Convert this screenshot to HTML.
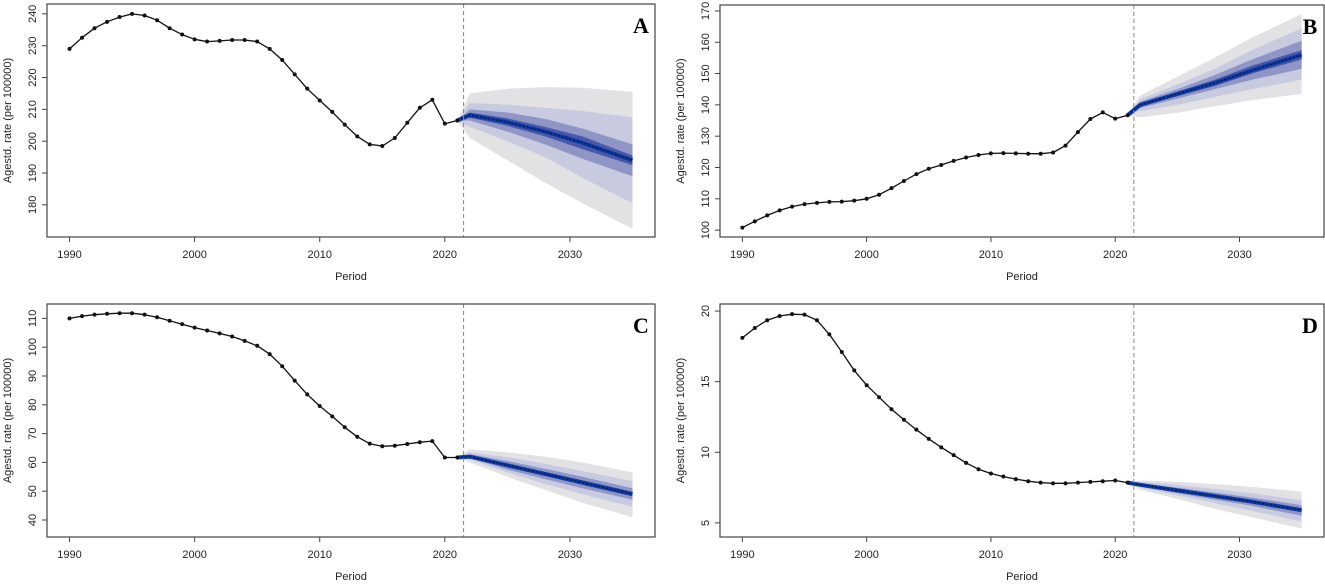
<!DOCTYPE html>
<html><head><meta charset="utf-8"><style>
body{margin:0;background:#fff;width:1325px;height:584px;overflow:hidden}
svg{display:block}
text{font-family:"Liberation Sans",sans-serif;fill:#222}
</style></head><body>
<svg id="chart" width="1325" height="584"></svg>
<script>
const years=[];for(let y=1990;y<=2021;y++)years.push(y);
const xTicks=[1990,2000,2010,2020,2030];
const fcYears=[2021,2022,2025,2028,2031,2035];
// Panel A
const aObs=[229,232.5,235.5,237.5,239,240,239.5,238,235.5,233.5,232,231.3,231.5,231.8,231.8,231.3,229,225.5,221,216.5,212.8,209.2,205.2,201.5,199,198.5,201,205.8,210.5,213,205.5,206.5];
const aTicks=[180,190,200,210,220,230,240];
const aMed=[206.5,208.2,206,203,199.5,194];
const aHi95=[206.5,215,216.5,217,216.8,215.5],aLo95=[206.5,201,194,187,180.5,172.5];
const aHi80=[206.5,212,211.5,210.5,209.5,207.5],aLo80=[206.5,204.5,200,195,188.5,180.5];
const aHi50=[206.5,210,209,207,204,199],aLo50=[206.5,206.5,203,199,194.5,189];
const aHi20=[206.5,209,207.2,204.5,201.5,195.5],aLo20=[206.5,207.4,204.8,201.5,197.5,192.5];
// Panel B
const bObs=[100.8,102.8,104.7,106.3,107.5,108.3,108.7,109,109.1,109.4,110,111.3,113.4,115.7,117.9,119.6,120.8,122.1,123.2,124,124.5,124.6,124.5,124.4,124.4,124.8,127,131.3,135.5,137.6,135.6,136.7];
const bTicks=[100,110,120,130,140,150,160,170];
const bMed=[136.7,140,143.5,147,151,156];
const bHi95=[136.7,143,149,155,161.5,169],bLo95=[136.7,136,137.5,139.5,141.5,143.5];
const bHi80=[136.7,141.8,146.5,151.5,157.5,164.5],bLo80=[136.7,138,140,142.5,145,148];
const bHi50=[136.7,141,145,149.5,154.5,160.5],bLo50=[136.7,139,142,145,148,151.5];
const bHi20=[136.7,140.5,144.2,148,152.5,157.5],bLo20=[136.7,139.5,142.8,146,150,154.5];
// Panel C
const cObs=[110,110.8,111.3,111.6,111.8,111.8,111.3,110.4,109.2,108,106.8,105.8,104.8,103.7,102.2,100.5,97.6,93.4,88.4,83.6,79.6,76,72.2,68.9,66.5,65.6,65.8,66.4,67,67.4,61.7,61.7];
const cTicks=[40,50,60,70,80,90,100,110];
const cMed=[61.7,62,59,56,53,49];
const cHi95=[61.7,64.5,63.5,62,60,56.5],cLo95=[61.7,60,55,50.5,46,41];
const cHi80=[61.7,63.5,61.8,59.5,57,53.5],cLo80=[61.7,61,56.5,52.5,49,44.5];
const cHi50=[61.7,62.8,60.5,57.8,55,51],cLo50=[61.7,61.5,57.5,54.2,51,47];
const cHi20=[61.7,62.3,59.6,56.7,53.8,49.8],cLo20=[61.7,61.8,58.4,55.3,52.2,48.2];
// Panel D
const dObs=[18.1,18.8,19.35,19.65,19.78,19.75,19.35,18.35,17.1,15.8,14.75,13.9,13.05,12.3,11.6,10.95,10.35,9.8,9.25,8.8,8.5,8.28,8.1,7.95,7.85,7.8,7.8,7.85,7.9,7.95,8,7.85];
const dTicks=[5,10,15,20];
const dMed=[7.85,7.7,7.3,6.9,6.5,5.9];
const dHi95=[7.85,8.0,7.9,7.75,7.55,7.2],dLo95=[7.85,7.35,6.7,6.0,5.4,4.6];
const dHi80=[7.85,7.9,7.7,7.4,7.1,6.6],dLo80=[7.85,7.5,6.95,6.4,5.85,5.1];
const dHi50=[7.85,7.8,7.5,7.15,6.8,6.25],dLo50=[7.85,7.6,7.1,6.65,6.2,5.5];
const dHi20=[7.85,7.75,7.4,7.02,6.65,6.05],dLo20=[7.85,7.65,7.2,6.8,6.4,5.75];

const NS='http://www.w3.org/2000/svg';
const svg=document.getElementById('chart');
function mk(tag,attrs,parent){const e=document.createElementNS(NS,tag);for(const k in attrs)e.setAttribute(k,attrs[k]);(parent||svg).appendChild(e);return e;}

const panels=[
 {id:'a',label:'A',box:[47,4,655,237],ylim:[169.9,243.1],obs:aObs,ticks:aTicks,med:aMed,bands:[[aHi95,aLo95],[aHi80,aLo80],[aHi50,aLo50],[aHi20,aLo20]]},
 {id:'b',label:'B',box:[720,5,1324,237],ylim:[97.8,171.9],obs:bObs,ticks:bTicks,med:bMed,bands:[[bHi95,bLo95],[bHi80,bLo80],[bHi50,bLo50],[bHi20,bLo20]]},
 {id:'c',label:'C',box:[47,304,655,537],ylim:[34.1,115],obs:cObs,ticks:cTicks,med:cMed,bands:[[cHi95,cLo95],[cHi80,cLo80],[cHi50,cLo50],[cHi20,cLo20]]},
 {id:'d',label:'D',box:[720,304,1324,537],ylim:[4.0,20.5],obs:dObs,ticks:dTicks,med:dMed,bands:[[dHi95,dLo95],[dHi80,dLo80],[dHi50,dLo50],[dHi20,dLo20]]}
];
const bandColors=['#e2e2e4','#c8cbdf','#8f96c6','#4b58aa'];
const xlim=[1988.2,2036.8];

panels.forEach(p=>{
 const [x0,y0,x1,y1]=p.box;
 const g=mk('g',{});
 
 
 const X=v=>x0+(v-xlim[0])/(xlim[1]-xlim[0])*(x1-x0);
 const Y=v=>y1-(v-p.ylim[0])/(p.ylim[1]-p.ylim[0])*(y1-y0);
 p.bands.forEach((b,i)=>{
  let d='';
  fcYears.forEach((yr,j)=>{d+=(j?'L':'M')+X(yr).toFixed(1)+','+Y(b[0][j]).toFixed(1);});
  for(let j=fcYears.length-1;j>=0;j--)d+='L'+X(fcYears[j]).toFixed(1)+','+Y(b[1][j]).toFixed(1);
  const e=mk('path',{d:d+'Z',fill:bandColors[i]},g);
  
  
 });
 let md='';fcYears.forEach((yr,j)=>{md+=(j?'L':'M')+X(yr).toFixed(1)+','+Y(p.med[j]).toFixed(1);});
 const m1=mk('path',{d:md,fill:'none',stroke:'#0a3aa8','stroke-width':4},g);
 
 
 mk('path',{d:md,fill:'none',stroke:'#111','stroke-width':1,'stroke-dasharray':'2,2'},g);
 let od='';years.forEach((yr,j)=>{od+=(j?'L':'M')+X(yr).toFixed(1)+','+Y(p.obs[j]).toFixed(1);});
 const ol=mk('path',{d:od,fill:'none',stroke:'#111','stroke-width':1.3,'stroke-linejoin':'round'},g);
 
 
 years.forEach((yr,j)=>{
  const c=mk('circle',{cx:X(yr),cy:Y(p.obs[j]),r:2,fill:'#111'},g);
  
  
 });
 const vl=mk('line',{x1:X(2021.5),x2:X(2021.5),y1:y0,y2:y1,stroke:'#888','stroke-dasharray':'4,3','stroke-width':1},g);
 
 
 const bx=mk('rect',{x:x0,y:y0,width:x1-x0,height:y1-y0,fill:'none',stroke:'#444','stroke-width':1.2},g);
 
 
 xTicks.forEach(t=>{
  mk('line',{x1:X(t),x2:X(t),y1:y1,y2:y1+5,stroke:'#444'},g);
  const tx=mk('text',{x:X(t),y:y1+21,'font-size':11,'text-anchor':'middle'},g);
  tx.textContent=t;
  
  
 });
 p.ticks.forEach(t=>{
  mk('line',{x1:x0-5,x2:x0,y1:Y(t),y2:Y(t),stroke:'#444'},g);
  const tx=mk('text',{x:x0-11,y:Y(t),'font-size':11,'text-anchor':'middle',transform:'rotate(-90 '+(x0-11)+' '+Y(t)+')'},g);
  tx.textContent=t;
  
  
 });
 const xt=mk('text',{x:(x0+x1)/2,y:y1+43,'font-size':11,'text-anchor':'middle'},g);
 xt.textContent='Period';
 
 
 const yx=x0-36,yy=(y0+y1)/2;
 const yt=mk('text',{x:yx,y:yy,'font-size':11,'text-anchor':'middle',transform:'rotate(-90 '+yx+' '+yy+')'},g);
 yt.textContent='Agestd. rate (per 100000)';
 
 
 const lb=mk('text',{x:x1-14,y:y0+29,'font-size':22,'font-weight':'bold','text-anchor':'middle',style:'font-family:"Liberation Serif",serif;fill:#000'},g);
 lb.textContent=p.label;
 
 
});
</script>
</body></html>
